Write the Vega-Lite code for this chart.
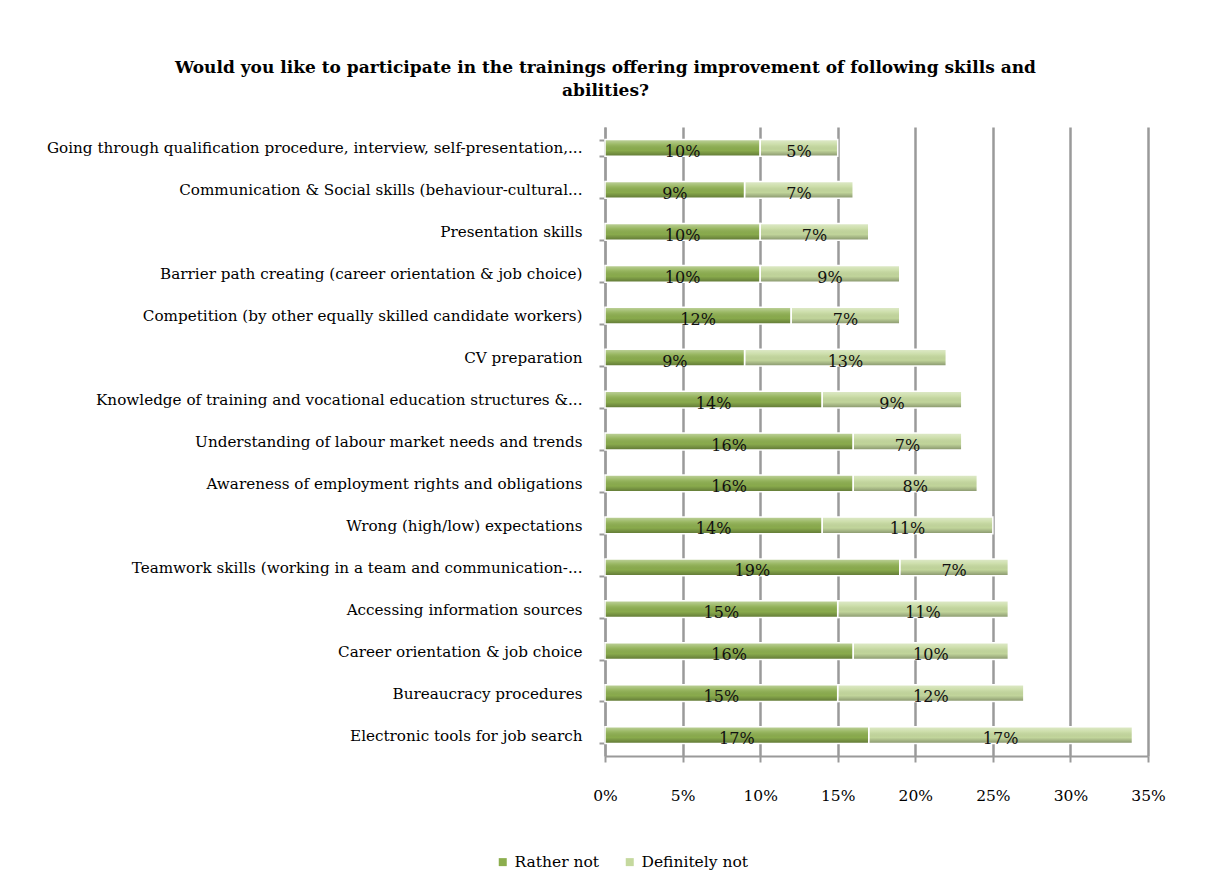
{
  "$schema": "https://vega.github.io/schema/vega-lite/v6.json",
  "autosize": "none",
  "padding": {"left": 605, "top": 127, "right": 62, "bottom": 117},
  "width": 543,
  "height": 629,
  "background": "white",
  "title": {
    "text": ["Would you like to participate in the trainings offering improvement of following skills and", "abilities?"],
    "font": "DejaVu Serif",
    "fontSize": 17,
    "fontWeight": "bold",
    "color": "#000000",
    "anchor": "middle",
    "frame": "group",
    "dx": -271,
    "offset": 20,
    "lineHeight": 23
  },
  "data": {
    "values": [
      {"cat": "Going through qualification procedure, interview, self-presentation,...", "series": "Rather not", "k": 1, "value": 0.10},
      {"cat": "Going through qualification procedure, interview, self-presentation,...", "series": "Definitely not", "k": 2, "value": 0.05},
      {"cat": "Communication & Social skills (behaviour-cultural...", "series": "Rather not", "k": 1, "value": 0.09},
      {"cat": "Communication & Social skills (behaviour-cultural...", "series": "Definitely not", "k": 2, "value": 0.07},
      {"cat": "Presentation skills", "series": "Rather not", "k": 1, "value": 0.10},
      {"cat": "Presentation skills", "series": "Definitely not", "k": 2, "value": 0.07},
      {"cat": "Barrier path creating (career orientation & job choice)", "series": "Rather not", "k": 1, "value": 0.10},
      {"cat": "Barrier path creating (career orientation & job choice)", "series": "Definitely not", "k": 2, "value": 0.09},
      {"cat": "Competition (by other equally skilled candidate workers)", "series": "Rather not", "k": 1, "value": 0.12},
      {"cat": "Competition (by other equally skilled candidate workers)", "series": "Definitely not", "k": 2, "value": 0.07},
      {"cat": "CV preparation", "series": "Rather not", "k": 1, "value": 0.09},
      {"cat": "CV preparation", "series": "Definitely not", "k": 2, "value": 0.13},
      {"cat": "Knowledge of training and vocational education structures &...", "series": "Rather not", "k": 1, "value": 0.14},
      {"cat": "Knowledge of training and vocational education structures &...", "series": "Definitely not", "k": 2, "value": 0.09},
      {"cat": "Understanding of labour market needs and trends", "series": "Rather not", "k": 1, "value": 0.16},
      {"cat": "Understanding of labour market needs and trends", "series": "Definitely not", "k": 2, "value": 0.07},
      {"cat": "Awareness of employment rights and obligations", "series": "Rather not", "k": 1, "value": 0.16},
      {"cat": "Awareness of employment rights and obligations", "series": "Definitely not", "k": 2, "value": 0.08},
      {"cat": "Wrong (high/low) expectations", "series": "Rather not", "k": 1, "value": 0.14},
      {"cat": "Wrong (high/low) expectations", "series": "Definitely not", "k": 2, "value": 0.11},
      {"cat": "Teamwork skills (working in a team and communication-...", "series": "Rather not", "k": 1, "value": 0.19},
      {"cat": "Teamwork skills (working in a team and communication-...", "series": "Definitely not", "k": 2, "value": 0.07},
      {"cat": "Accessing information sources", "series": "Rather not", "k": 1, "value": 0.15},
      {"cat": "Accessing information sources", "series": "Definitely not", "k": 2, "value": 0.11},
      {"cat": "Career orientation & job choice", "series": "Rather not", "k": 1, "value": 0.16},
      {"cat": "Career orientation & job choice", "series": "Definitely not", "k": 2, "value": 0.10},
      {"cat": "Bureaucracy procedures", "series": "Rather not", "k": 1, "value": 0.15},
      {"cat": "Bureaucracy procedures", "series": "Definitely not", "k": 2, "value": 0.12},
      {"cat": "Electronic tools for job search", "series": "Rather not", "k": 1, "value": 0.17},
      {"cat": "Electronic tools for job search", "series": "Definitely not", "k": 2, "value": 0.17}
    ]
  },
  "transform": [
    {"stack": "value", "groupby": ["cat"], "sort": [{"field": "k", "order": "ascending"}], "as": ["lo", "hi"]}
  ],
  "encoding": {
    "y": {
      "field": "cat",
      "type": "nominal",
      "sort": null,
      "title": null,
      "scale": {"paddingInner": 0.6, "paddingOuter": 0.3},
      "axis": {
        "labelFont": "DejaVu Serif",
        "labelFontSize": 15.2,
        "labelColor": "#000000",
        "labelLimit": 700,
        "labelPadding": 17,
        "tickSize": 6,
        "tickBand": "extent",
        "tickColor": "#9a9a9a",
        "tickWidth": 2,
        "domainColor": "#9a9a9a",
        "domainWidth": 2
      }
    }
  },
  "layer": [
    {
      "mark": {"type": "bar"},
      "encoding": {
        "x": {
          "field": "lo",
          "type": "quantitative",
          "title": null,
          "scale": {"domain": [0, 0.35], "nice": false},
          "axis": {
            "values": [0, 0.05, 0.1, 0.15, 0.2, 0.25, 0.3, 0.35],
            "format": ".0%",
            "labelFlush": false,
            "labelFont": "DejaVu Serif",
            "labelFontSize": 15.5,
            "labelColor": "#000000",
            "labelPadding": 26,
            "tickSize": 6,
            "tickColor": "#9a9a9a",
            "tickWidth": 2,
            "domainColor": "#9a9a9a",
            "domainWidth": 2,
            "grid": true,
            "gridColor": "#9a9a9a",
            "gridWidth": 2.5
          }
        },
        "x2": {"field": "hi"},
        "color": {
          "field": "series",
          "type": "nominal",
          "title": null,
          "scale": {"domain": ["Rather not", "Definitely not"], "range": ["#8cae4e", "#c5d99e"]},
          "legend": {
            "orient": "none",
            "direction": "horizontal",
            "legendX": -110,
            "legendY": 727,
            "symbolType": "square",
            "symbolSize": 64,
            "symbolStrokeWidth": 0,
            "labelFont": "DejaVu Serif",
            "labelFontSize": 15.5,
            "labelColor": "#000000",
            "columnPadding": 22,
            "labelOffset": 4
          }
        }
      }
    },
    {
      "mark": {
        "type": "bar",
        "stroke": "white",
        "strokeWidth": 1.5,
        "fill": {
          "gradient": "linear",
          "x1": 0, "y1": 0, "x2": 0, "y2": 1,
          "stops": [
            {"offset": 0, "color": "rgba(255,255,255,0.45)"},
            {"offset": 0.3, "color": "rgba(255,255,255,0.12)"},
            {"offset": 0.65, "color": "rgba(0,0,0,0.02)"},
            {"offset": 1, "color": "rgba(0,0,0,0.32)"}
          ]
        }
      },
      "encoding": {
        "x": {"field": "lo", "type": "quantitative"},
        "x2": {"field": "hi"},
        "detail": {"field": "series"}
      }
    },
    {
      "transform": [
        {"fold": ["lo", "hi"], "as": ["edge", "pos"]}
      ],
      "mark": {"type": "text", "font": "DejaVu Serif", "fontSize": 16, "color": "#111111", "dy": 4},
      "encoding": {
        "x": {"aggregate": "mean", "field": "pos", "type": "quantitative"},
        "detail": {"field": "series"},
        "text": {"field": "value", "type": "quantitative", "format": ".0%"}
      }
    }
  ],
  "config": {
    "view": {"stroke": null}
  }
}
